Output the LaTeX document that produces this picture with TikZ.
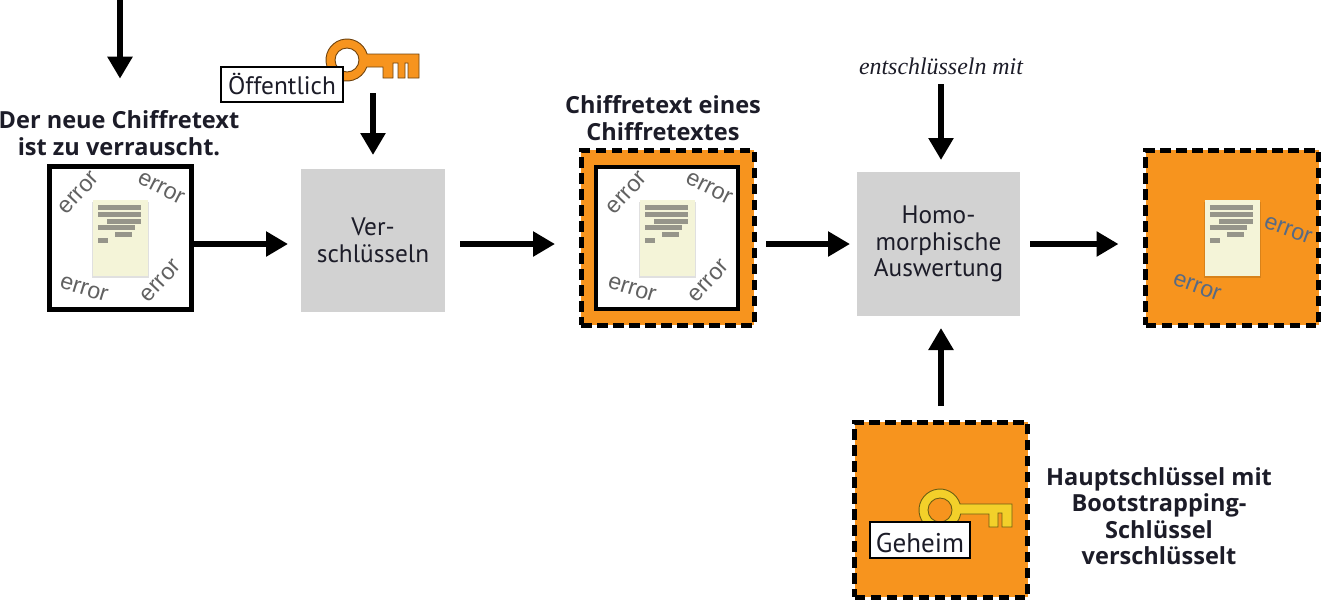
\documentclass[tikz,border=0pt]{standalone}
\usepackage{xcolor}
\usepackage{fontspec}
\setmainfont{PT Sans}
\newfontfamily\headfont{Open Sans}
\newfontfamily\errorfont{Liberation Sans}
\newfontfamily\notefont{Liberation Serif}
\usetikzlibrary{arrows.meta}

\definecolor{boxorange}{HTML}{F7941E}
\definecolor{keyyellow}{HTML}{F3D02A}
\definecolor{papercream}{HTML}{F4F4D8}
\definecolor{paperbar}{HTML}{96958A}
\definecolor{stepgray}{HTML}{D2D2D2}
\definecolor{inktext}{HTML}{1C1C28}
\definecolor{errslate}{HTML}{566A85}

\def\px{0.02cm}

\begin{document}
\begin{tikzpicture}[
    x=0.02cm, y=-0.02cm,
    every node/.style={outer sep=0pt, text=inktext},
    flow/.style={draw=black, line width={5.5*\px}, -{Triangle[length={22*\px}, width={24*\px}]}},
    stepbox/.style={fill=stepgray, align=center, font=\fontsize{14.4}{15.2}\selectfont, inner sep=0pt},
    plainbox/.style={draw=black, line width={5*\px}, fill=white, minimum width={142*\px}, minimum height={143*\px}},
    wrapbox/.style={draw=black, line width={5*\px}, dash pattern=on {10.5*\px} off {5.5*\px}, fill=boxorange,
        minimum width={173*\px}, minimum height={175*\px}},
    heading/.style={font=\fontsize{13.4}{15}\selectfont\headfont\bfseries, align=center, inner sep=0pt},
    tag/.style={draw=black, line width={1.2*\px}, fill=white, font=\fontsize{14.4}{16}\selectfont, inner sep=0pt},
    errtext/.style={font=\fontsize{13.2}{14}\selectfont\errorfont, text=black!62},
    keyline/.style={draw=black!55!#1, line width={0.9*\px}, fill=#1, even odd rule},
    pics/paper/.style={code={
        \fill[black, opacity=0.12] (-1,2) rectangle (56,78);
        \fill[papercream] (0,0) rectangle (55,76);
        \foreach \xa/\xb/\ya in {5/48/5, 5/48/12, 14/48/18.5, 5/42/25, 22/39/31.5, 5/15/37.5}
            \fill[paperbar] (\xa,\ya) rectangle (\xb,\ya+5);
    }},
]

\useasboundingbox (0,0) rectangle (1321,600);
\coordinate (level) at (0,244);

% Boxes of the chain
\node[plainbox] (noisy) at (120.5,238) {};
\node[stepbox, minimum width={144*\px}, minimum height={143*\px}] (encrypt) at (373,240.5) {Ver-\\schlüsseln};
\node[wrapbox] (wrapped) at (667.5,237.5) {};
\node[plainbox, line width={4.5*\px}, minimum height={142*\px}] (inner) at (667,238) {};
\node[stepbox, minimum width={163*\px}, minimum height={144*\px}] (evaluate) at (938.5,244) {Homo-\\morphische\\Auswertung};
\node[wrapbox] (result) at (1232,237.5) {};
\node[wrapbox] (masterkey) at (941,509.5) {};

% Documents
\pic at (93,200) {paper};
\pic at (640,200) {paper};
\pic at (1205,200) {paper};

% Error marks around the plain documents
\foreach \cx in {120,668} {
    \foreach \dx/\dy/\ang in {-41/-45/47, 41/-50/-27, -36/51/-17, 41/43/47}
        \node[errtext, rotate=\ang] at (\cx+\dx,238+\dy) {error};
}
\node[errtext, text=errslate, rotate=-20] at (1288,230) {error};
\node[errtext, text=errslate, rotate=-20] at (1197,287) {error};

% Public key
\begin{scope}[shift={(347,60)}]
    \path[keyline=boxorange] (20.1,-6) arc[start angle=-16.6, end angle=-340.5, radius=21]
        -- (36,7) -- (36,18) -- (46,18) -- (46,3) -- (51,3) -- (51,18) -- (58,18) -- (58,3) -- (61,3) -- (61,18)
        -- (72,18) -- (72,-6) -- cycle (0,0) circle[radius=12];
\end{scope}
\node[tag, minimum width={122*\px}, minimum height={35*\px}] (public) at (282,84.5) {Öffentlich};

% Secret key
\begin{scope}[shift={(940,510)}]
    \path[keyline=keyyellow] (20.1,-6) arc[start angle=-16.6, end angle=-349, radius=21]
        -- (49,4) -- (49,17) -- (58,17) -- (58,3) -- (62,3) -- (62,17)
        -- (72,17) -- (72,-6) -- cycle (0,0) circle[radius=12];
\end{scope}
\node[tag, font=\fontsize{15.4}{16}\selectfont, minimum width={100*\px}, minimum height={36*\px}] (secret) at (920,540) {\raisebox{-1.7pt}[10.8pt][0pt]{Geheim}};

% Captions
\node[heading] (noisytitle) at (119,133) {Der neue Chiffretext\\ist zu verrauscht.};
\node[heading] (wrappedtitle) at (663,118) {Chiffretext eines\\Chiffretextes};
\node[heading] (keytitle) at (1159,516) {Hauptschlüssel mit\\Bootstrapping-\\Schlüssel\\verschlüsselt};
\node[font=\fontsize{13.6}{15}\selectfont\notefont\itshape] (decrypt) at (941,66) {entschlüsseln mit};

% Free ends of the incoming arrows
\coordinate (feed) at (120,-4);
\coordinate (keyend) at (373,93);

% Connectors
\draw[flow, shorten >={32*\px}] (feed) -- (feed |- noisytitle.north);
\draw[flow, shorten >={14*\px}] (keyend) -- (encrypt.north);
\draw[flow, shorten >={13*\px}] (noisy.east |- level) -- (encrypt.west |- level);
\draw[flow, shorten <={15*\px}, shorten >={26*\px}] (encrypt.east |- level) -- (wrapped.west |- level);
\draw[flow, shorten <={12*\px}, shorten >={7*\px}] (wrapped.east |- level) -- (evaluate.west |- level);
\draw[flow, shorten <={10*\px}, shorten >={27*\px}] (evaluate.east |- level) -- (result.west |- level);
\draw[flow, shorten <={4*\px}, shorten >={12*\px}] (decrypt.south) -- (decrypt.south |- evaluate.north);
\draw[flow, shorten <={16*\px}, shorten >={12*\px}] (masterkey.north) -- (masterkey.north |- evaluate.south);

\end{tikzpicture}
\end{document}
